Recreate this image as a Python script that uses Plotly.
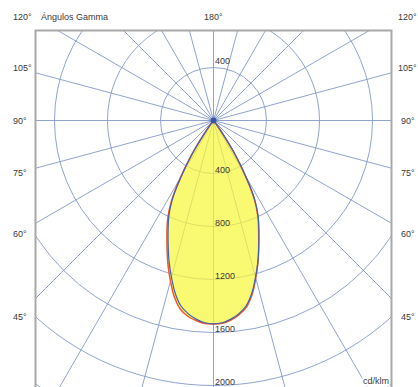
import numpy as np
import plotly.graph_objects as go

# Luminous intensity (cd/klm) against gamma angle (degrees from nadir)
gamma_deg = [0, 2.5, 5, 7.5, 10, 12.5, 15, 17.5, 20, 22.5, 25, 27.5, 30,
             32.5, 35, 37.5, 40, 45, 50, 60, 70, 80, 90]
c0_cdklm = [1535, 1532, 1512, 1478, 1430, 1345, 1232, 1118, 998, 890, 790,
            665, 478, 290, 105, 22, 5, 1, 0, 0, 0, 0, 0]
c180_cdklm = [1535, 1533, 1515, 1490, 1445, 1365, 1255, 1142, 1025, 918, 818,
              690, 500, 310, 118, 26, 6, 1, 0, 0, 0, 0, 0]
c90_cdklm = [1535, 1528, 1505, 1470, 1420, 1335, 1225, 1115, 1000, 895, 798,
             675, 488, 298, 110, 24, 6, 1, 0, 0, 0, 0, 0]
c270_cdklm = [1535, 1528, 1505, 1470, 1420, 1335, 1225, 1115, 1000, 895, 798,
              675, 488, 298, 110, 24, 6, 1, 0, 0, 0, 0, 0]

# Grid rings and their value labels
ring_values = [400, 800, 1200, 1600, 2000, 2400, 2800]
ring_labels = ["400", "800", "1200", "1600", "2000", "2400", "2800"]
spoke_step_deg = 15

# Gamma angle captions down both sides
side_angles = [120, 105, 90, 75, 60, 45]
side_labels = ["120°", "105°", "90°", "75°", "60°", "45°"]

# ---- page geometry (pixels) ----
W, H = 418, 387
BOX_L, BOX_R, BOX_T, BOX_B = 36, 391, 31, 387
CX, CY = 213.5, 120.5           # pole of the diagram
CD_PER_PX = 400 / 53.0

xr = [(BOX_L - CX) * CD_PER_PX, (BOX_R - CX) * CD_PER_PX]
yr = [-(BOX_B - CY) * CD_PER_PX, (CY - BOX_T) * CD_PER_PX]


def px_x(p):
    return p / W


def px_y(p):
    return 1 - p / H


def half_plane(right_vals, left_vals):
    g = np.radians(np.asarray(gamma_deg, float))
    r = np.asarray(right_vals, float)
    l = np.asarray(left_vals, float)
    xs = np.concatenate([r * np.sin(g), (-l * np.sin(g))[::-1]])
    ys = np.concatenate([-r * np.cos(g), (-l * np.cos(g))[::-1]])
    return xs, ys


def spoke_end(angle_rad):
    """Point a little past where a spoke from the pole leaves the window."""
    dx, dy = np.sin(angle_rad), np.cos(angle_rad)
    ts = []
    if dx > 1e-9:
        ts.append(xr[1] / dx)
    elif dx < -1e-9:
        ts.append(xr[0] / dx)
    if dy > 1e-9:
        ts.append(yr[1] / dy)
    elif dy < -1e-9:
        ts.append(yr[0] / dy)
    tt = min(ts) + 20
    return tt * dx, tt * dy


FONT = "Liberation Sans, Arial, sans-serif"
TXT = "#3a3a3a"
GRID = "#8398c9"

fig = go.Figure()

x_red, y_red = half_plane(c0_cdklm, c180_cdklm)
x_blue, y_blue = half_plane(c90_cdklm, c270_cdklm)

# yellow body of the distribution (grid shows through it)
fig.add_trace(go.Scatter(x=x_red, y=y_red, mode="lines", fill="toself",
                         fillcolor="rgba(248,246,60,0.72)",
                         line=dict(width=0, shape="spline"),
                         hoverinfo="skip", showlegend=False))

# C0-C180 and C90-C270 planes
fig.add_trace(go.Scatter(x=x_red, y=y_red, mode="lines",
                         line=dict(color="#ef5a2a", width=1.5, shape="spline"),
                         name="C0-C180", showlegend=False))
fig.add_trace(go.Scatter(x=x_blue, y=y_blue, mode="lines",
                         line=dict(color="#4262b0", width=1.2, shape="spline"),
                         name="C90-C270", showlegend=False))

# pole marker
fig.add_trace(go.Scatter(x=[0], y=[0], mode="markers",
                         marker=dict(color="#3a56a0", size=6),
                         hoverinfo="skip", showlegend=False))

# polar grid as axis-referenced shapes (clipped to the plotting window)
shapes = []
for rv in ring_values:
    shapes.append(dict(type="circle", xref="x", yref="y", x0=-rv, x1=rv,
                       y0=-rv, y1=rv, line=dict(color=GRID, width=0.9),
                       layer="below"))
for a in range(0, 360, spoke_step_deg):
    ex, ey = spoke_end(np.radians(a))
    shapes.append(dict(type="line", xref="x", yref="y", x0=0, y0=0,
                       x1=ex, y1=ey, line=dict(color=GRID, width=0.9),
                       layer="below"))
shapes.append(dict(type="rect", xref="paper", yref="paper",
                   x0=px_x(BOX_L - 0.5), x1=px_x(BOX_R + 0.5),
                   y0=-0.05, y1=px_y(BOX_T - 0.5),
                   line=dict(color="#a8a8a8", width=2), layer="above"))

ann = []
# ring values along the downward axis, and the first ring above the pole
for rv, lab in zip(ring_values, ring_labels):
    if rv > 2000:
        continue
    ann.append(dict(x=0, y=-rv, xref="x", yref="y", text=lab, showarrow=False,
                    xanchor="left", yanchor="middle", xshift=-1, yshift=4,
                    font=dict(family=FONT, size=9, color=TXT)))
ann.append(dict(x=0, y=ring_values[0], xref="x", yref="y", text=ring_labels[0],
                showarrow=False, xanchor="left", yanchor="middle", xshift=-1,
                yshift=7, font=dict(family=FONT, size=9, color=TXT)))

# side captions: placed along each gamma direction, clamped to the title row
ROW_Y = 17
LAB_R = 196.5
for ang, lab in zip(side_angles, side_labels):
    dy = LAB_R * np.tan(np.radians(90 - ang))
    py = max(CY + dy, ROW_Y)
    ann.append(dict(x=px_x(10.5), y=px_y(py), xref="paper", yref="paper",
                    text=lab, showarrow=False, xanchor="left", yanchor="middle",
                    font=dict(family=FONT, size=9, color=TXT)))
    ann.append(dict(x=px_x(407.5), y=px_y(py), xref="paper", yref="paper",
                    text=lab, showarrow=False, xanchor="center", yanchor="middle",
                    font=dict(family=FONT, size=9, color=TXT)))

ann.append(dict(x=px_x(39), y=px_y(ROW_Y), xref="paper", yref="paper",
                text="Ángulos Gamma", showarrow=False, xanchor="left",
                yanchor="middle", font=dict(family=FONT, size=9, color=TXT)))
ann.append(dict(x=px_x(CX), y=px_y(ROW_Y), xref="paper", yref="paper",
                text="180°", showarrow=False, xanchor="center",
                yanchor="middle", font=dict(family=FONT, size=9, color=TXT)))
ann.append(dict(x=px_x(390), y=px_y(381), xref="paper", yref="paper",
                text="cd/klm", showarrow=False, xanchor="right",
                yanchor="middle", bgcolor="white", borderpad=0,
                font=dict(family=FONT, size=9, color=TXT)))

fig.update_layout(
    width=W, height=H,
    margin=dict(l=0, r=0, t=0, b=0),
    paper_bgcolor="white", plot_bgcolor="white",
    xaxis=dict(domain=[px_x(BOX_L), px_x(BOX_R)], range=xr, visible=False,
               fixedrange=True),
    yaxis=dict(domain=[0, px_y(BOX_T)], range=yr, visible=False,
               fixedrange=True),
    annotations=ann,
    shapes=shapes,
)

fig.write_html("out.html")
